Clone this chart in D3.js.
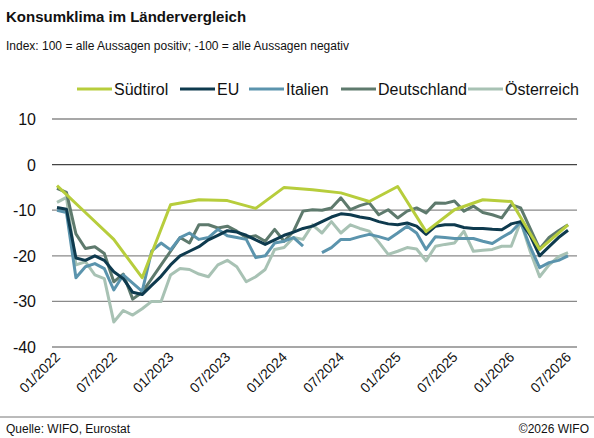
<!DOCTYPE html>
<html>
<head>
<meta charset="utf-8">
<script src="https://cdn.jsdelivr.net/npm/d3@7"></script>
<style>
  body { margin: 0; background: #fff; font-family: "Liberation Sans", Arial, sans-serif; }
</style>
</head>
<body>
<svg id="chart" width="594" height="438"></svg>
<script>
const W = 594, H = 438

// months since 01/2022
const suedtirolMonths = [0, 3, 6, 9, 12, 15, 18, 21, 24, 27, 30, 33, 36, 39, 42, 45, 48, 51, 54]
const suedtirol = [-4.6, -10.5, -16.4, -24.8, -8.8, -7.7, -7.9, -9.6, -5, -5.5, -6.2, -8.1, -4.8, -14.7, -9.9, -7.7, -8.1, -18.6, -13.2]

const eu = [-9.4, -9.8, -20.5, -21, -20, -21, -23.5, -25, -28, -28.5, -26.5, -24.5, -22, -20, -19, -18, -16.5, -15.5, -14.5, -14.8,
  -15.5, -16.5, -17.5, -16.5, -15.5, -14.8, -14, -13.5, -12.5, -11.5, -10.8, -11, -11.5, -11.8, -12.5, -13, -13.2, -12.8, -13.5, -15.3,
  -13.5, -13.2, -13.2, -13.8, -14, -14, -14.2, -14.3, -13, -12.5, -15.5, -20, -18, -16, -14.4]
const italien = [-10, -10.5, -24.8, -22.4, -21.7, -22.8, -27.5, -24.2, -26, -27.8, -19, -17.2, -18.7, -16, -15, -16.4, -16, -14.2, -15.6, -16,
  -16.4, -20.4, -20, -17.2, -16.8, -16, -17.9, null, -19.3, -18.2, -16.4, -16.4, -15.8, -15.3, -15.8, -16.4, -15, -13.5, -15, -18.6,
  -15.8, -16, -16.2, -16.2, -16.2, -16.8, -17.3, -16, -14.8, -12.6, -18, -22.6, -21.5, -21, -20]
const deutschland = [-5.2, -6.1, -15.2, -18.4, -18, -19.5, -25.7, -24, -29.5, -28, -25, -22, -19, -16, -17.2, -13.2, -13.2, -13.9, -13.5, -14.6,
  -16, -15.6, -16.8, -14.2, -16.8, -14.6, -10.2, -9.9, -10, -9.5, -7.3, -9.9, -9, -8.4, -11, -9.9, -11.7, -10.2, -9.5, -10.6,
  -8.4, -8.5, -8, -10.2, -9.1, -10.5, -11, -11.7, -8.8, -9.5, -14, -18.5, -16, -14.5, -13.2]
const oesterreich = [-8.3, -7.2, -22, -21.3, -24.2, -25, -34.5, -32, -33, -31.6, -30, -30, -24.2, -22.8, -23, -24, -24.6, -22, -21, -22.4,
  -25.7, -24.6, -23, -18.6, -18.2, -16, -16.4, -13.2, -15, -12.5, -15, -13.2, -14, -14.6, -17, -19.7, -19, -18.2, -18.5, -21.1,
  -17.9, -17.5, -17.2, -14.6, -19, -18.8, -18.6, -17.9, -17.9, -12.5, -19, -24.6, -22, -20.2, -19.3]

const yTicks = [10, 0, -10, -20, -30, -40]
const xTickMonths = [0, 6, 12, 18, 24, 30, 36, 42, 48, 54]
const xTickLabels = ["01/2022", "07/2022", "01/2023", "07/2023", "01/2024", "07/2024", "01/2025", "07/2025", "01/2026", "07/2026"]

const seriesNames = ["Südtirol", "EU", "Italien", "Deutschland", "Österreich"]
const colors = ["#b7cd3c", "#0e3a4e", "#5b94ad", "#5e7a6d", "#a8c2b4"]

const svg = d3.select("#chart")

const x = d3.scaleLinear().domain([0, 54]).range([57, 568])
const y = d3.scaleLinear().domain([-40, 10]).range([347, 119])

// titles
svg.append("text").attr("x", 6).attr("y", 22)
  .style("font-size", "15px").style("font-weight", "bold").attr("fill", "#111")
  .text("Konsumklima im Ländervergleich")
svg.append("text").attr("x", 6).attr("y", 50)
  .style("font-size", "12px").attr("fill", "#111")
  .text("Index: 100 = alle Aussagen positiv; -100 =  alle Aussagen negativ")

// grid
svg.append("g").selectAll("line").data(yTicks).join("line")
  .attr("x1", 52).attr("x2", 577)
  .attr("y1", d => y(d)).attr("y2", d => y(d))
  .attr("stroke", d => d === 0 ? "#444" : "#8a8a8a").attr("stroke-width", 1.3)
svg.append("g").selectAll("text").data(yTicks).join("text")
  .attr("x", 36).attr("y", d => y(d) + 6)
  .attr("text-anchor", "end").style("font-size", "16px").attr("fill", "#111")
  .text(d => d)

// x labels
svg.append("g").selectAll("text").data(xTickMonths).join("text")
  .attr("transform", d => `translate(${x(d) + 4},${358}) rotate(-45)`)
  .attr("text-anchor", "end").style("font-size", "14px").attr("fill", "#111")
  .text((d, i) => xTickLabels[i])

const line = d3.line()
  .defined(d => d[1] != null)
  .x(d => x(d[0])).y(d => y(d[1]))

const monthly = [null, eu, italien, deutschland, oesterreich]
const drawOrder = [4, 3, 2, 1, 0]
drawOrder.forEach(i => {
  let pts = i === 0
    ? suedtirolMonths.map((m, j) => [m, suedtirol[j]])
    : monthly[i].map((v, j) => [j, v])
  svg.append("path").datum(pts)
    .attr("d", line)
    .attr("fill", "none")
    .attr("stroke", colors[i])
    .attr("stroke-width", 3)
    .attr("stroke-linejoin", "round")
})

// legend
const legendX = [77, 180, 249, 341, 468]
const lg = svg.append("g").selectAll("g").data(seriesNames).join("g")
  .attr("transform", (d, i) => `translate(${legendX[i]},89)`)
lg.append("line").attr("x1", 0).attr("x2", 35).attr("stroke", (d, i) => colors[i]).attr("stroke-width", 3)
lg.append("text").attr("x", 37).attr("y", 6).style("font-size", "16px").attr("fill", "#111").text(d => d)

// footer
svg.append("line").attr("x1", 0).attr("x2", W).attr("y1", 417).attr("y2", 417).attr("stroke", "#777")
svg.append("text").attr("x", 6).attr("y", 433).style("font-size", "12px").attr("fill", "#111").text("Quelle: WIFO, Eurostat")
svg.append("text").attr("x", 589).attr("y", 433).attr("text-anchor", "end").style("font-size", "12px").attr("fill", "#111").text("©2026 WIFO")
</script>
</body>
</html>
